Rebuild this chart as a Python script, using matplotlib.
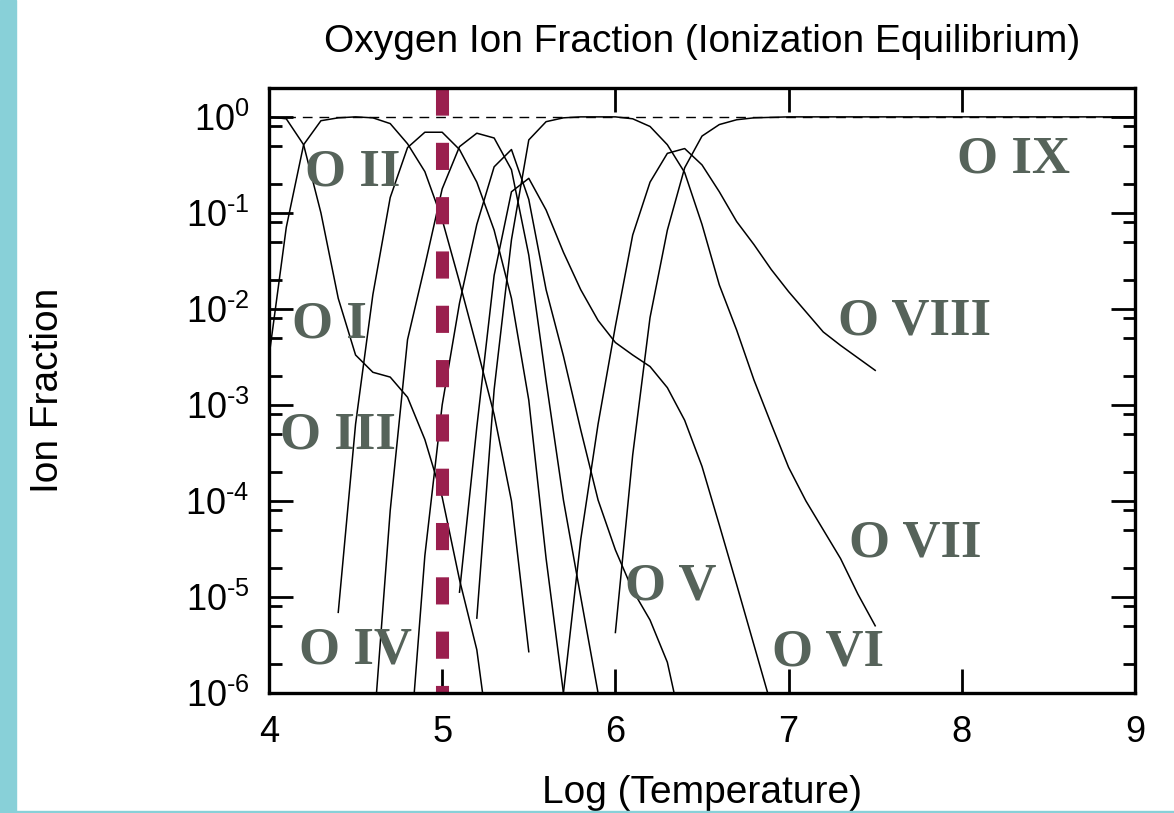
import numpy as np
import matplotlib.pyplot as plt
from matplotlib.ticker import LogLocator, FuncFormatter, NullFormatter
from matplotlib.patches import Rectangle

plt.rcParams['font.family'] = ['Liberation Sans', 'DejaVu Sans']
plt.rcParams['mathtext.fontset'] = 'custom'
plt.rcParams['mathtext.rm'] = 'Liberation Sans'

# log10 of ion fraction, sampled every 0.1 in log T
t_o1 = np.round(np.arange(4.0, 5.31, 0.1), 1)
f_o1 = [0.0, -0.02, -0.29, -1.0, -1.89, -2.48, -2.66, -2.71, -2.92, -3.36, -3.96, -4.82, -5.55, -6.9]

t_o2 = np.round(np.arange(4.0, 5.51, 0.1), 1)
f_o2 = [-2.5, -1.15, -0.29, -0.04, -0.01, 0.0, -0.01, -0.07, -0.28, -0.57, -1.07, -1.72, -2.4, -3.1, -4.0, -5.57]

t_o3 = np.round(np.arange(4.4, 5.71, 0.1), 1)
f_o3 = [-5.16, -3.2, -1.85, -0.84, -0.32, -0.16, -0.16, -0.34, -0.68, -1.18, -1.89, -2.95, -4.6, -6.0]

t_o4 = np.round(np.arange(4.6, 5.91, 0.1), 1)
f_o4 = [-6.5, -4.1, -2.32, -1.55, -0.75, -0.31, -0.17, -0.22, -0.55, -1.44, -2.75, -3.99, -5.0, -6.0]

t_o5 = np.round(np.arange(4.8, 6.41, 0.1), 1)
f_o5 = [-6.9, -4.57, -3.0, -1.94, -1.12, -0.52, -0.34, -0.86, -1.8, -2.49, -3.26, -3.99, -4.51, -4.93, -5.24, -5.68, -6.5]

t_o6 = np.round(np.arange(5.1, 6.91, 0.1), 1)
f_o6 = [-4.95, -3.23, -1.65, -0.78, -0.64, -0.97, -1.41, -1.8, -2.12, -2.35, -2.48, -2.6, -2.82, -3.16, -3.64, -4.25, -4.87, -5.5, -6.13]

t_o7 = np.round(np.arange(5.2, 7.51, 0.1), 1)
f_o7 = [-5.22, -2.84, -1.28, -0.24, -0.05, -0.01, 0.0, 0.0, 0.0, -0.02, -0.1, -0.29, -0.58, -1.12,
        -1.75, -2.22, -2.74, -3.2, -3.65, -4.0, -4.3, -4.6, -4.97, -5.3]

t_o8 = np.round(np.arange(5.6, 7.51, 0.1), 1)
f_o8 = [-7.5, -6.0, -4.4, -3.2, -2.18, -1.23, -0.68, -0.38, -0.33, -0.5, -0.78, -1.09, -1.33, -1.59,
        -1.82, -2.03, -2.24, -2.38, -2.51, -2.64]

t_o9 = [6.0, 6.1, 6.2, 6.3, 6.4, 6.5, 6.6, 6.7, 6.8, 7.0, 9.0]
f_o9 = [-5.37, -3.52, -2.09, -1.18, -0.53, -0.2, -0.08, -0.03, -0.01, 0.0, 0.0]

ions = ['O I', 'O II', 'O III', 'O IV', 'O V', 'O VI', 'O VII', 'O VIII', 'O IX']
curves = [(t_o1, f_o1), (t_o2, f_o2), (t_o3, f_o3), (t_o4, f_o4), (t_o5, f_o5),
          (t_o6, f_o6), (t_o7, f_o7), (t_o8, f_o8), (t_o9, f_o9)]

# where the ion names sit (log T, log fraction of the text baseline)
label_pos = [(4.352, -2.30), (4.485, -0.71), (4.398, -3.45), (4.497, -5.69), (6.321, -5.03),
             (7.227, -5.71), (7.73, -4.58), (7.724, -2.27), (8.30, -0.58)]

marked_T = 5.0


def exp_label(v, pos):
    e = int(round(np.log10(v)))
    s = str(e).replace('-', '\u2010')
    return r'$\mathregular{10^{%s}}$' % s


fig = plt.figure(figsize=(11.74, 8.13), dpi=100)
ax = fig.add_axes([0.2291, 0.1476, 0.9668 - 0.2291, 0.8918 - 0.1476])

for t, f in curves:
    ax.plot(t, 10.0 ** np.array(f), color='black', lw=1.1)

ax.axhline(1.0, color='black', lw=1.0, ls=(0, (7, 5)))
ax.plot([marked_T, marked_T], [2.0, 1e-6], color='#9a1f4e', lw=9.4,
        ls=(0, (2.08, 2.08)), solid_capstyle='butt', dash_capstyle='butt')

for name, (x, ly) in zip(ions, label_pos):
    ax.text(x, 10.0 ** ly, name, ha='center', va='baseline', color='#56635a',
            fontsize=38, fontweight='bold', family='Liberation Serif')

ax.set_yscale('log')
ax.set_xlim(4, 9)
ax.set_ylim(1e-6, 2.0)
ax.yaxis.set_major_locator(LogLocator(base=10, numticks=10))
ax.yaxis.set_minor_locator(LogLocator(base=10, subs=[2, 5, 8], numticks=10))
ax.yaxis.set_minor_formatter(NullFormatter())
ax.yaxis.set_major_formatter(FuncFormatter(exp_label))
ax.set_xticks([4, 5, 6, 7, 8, 9])

ax.tick_params(which='both', direction='in', top=True, right=True, width=2)
ax.tick_params(which='major', length=17, labelsize=26)
ax.tick_params(which='minor', length=9)
ax.tick_params(axis='x', pad=16)
ax.tick_params(axis='y', pad=14)
for s in ax.spines.values():
    s.set_linewidth(2.4)

ax.set_title('Oxygen Ion Fraction (Ionization Equilibrium)', fontsize=28, pad=26)
ax.set_xlabel('Log (Temperature)', fontsize=28, labelpad=18)
ax.set_ylabel('Ion Fraction', fontsize=28, labelpad=86)

# slide border
fig.patches.append(Rectangle((0, 0), 16 / 1174, 1, transform=fig.transFigure,
                             color='#88d0d8', zorder=0))
fig.patches.append(Rectangle((0, 0), 1, 2 / 813, transform=fig.transFigure,
                             color='#88d0d8', zorder=0))

fig.savefig('out.png', dpi=100)
